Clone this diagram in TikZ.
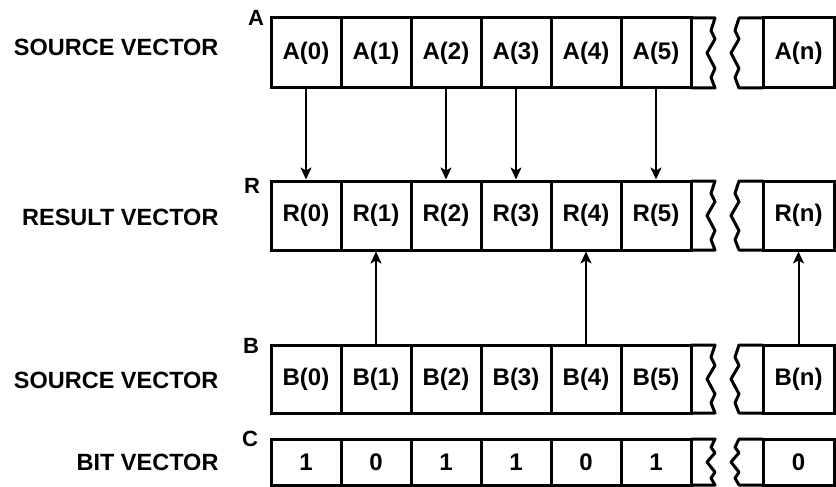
\documentclass[tikz,border=0pt]{standalone}
\usepackage{fontspec}
\setmainfont{Liberation Sans}
\usetikzlibrary{arrows.meta}
\newcommand\squig[3]{(#1,#2) -- ({#1-4},{#2+0.18*(#3-#2)}) -- ({#1},{#2+0.3*(#3-#2)}) -- ({#1-8},{#2+0.5*(#3-#2)}) -- ({#1},{#2+0.72*(#3-#2)}) -- ({#1-4},{#2+0.85*(#3-#2)}) -- (#1,#3)}
\newcommand\brkrow[2]{%
  \draw[brk] (691,#1) -- \squig{715}{#1}{#2} -- (691,#2);
  \draw[brk] (763,#1) -- \squig{739}{#1}{#2} -- (763,#2);}
\begin{document}
\begin{tikzpicture}[x=1pt,y=-1pt,
 cell/.style={draw, line width=3pt, minimum width=70pt, inner sep=0pt, font=\fontsize{24}{26}\selectfont\bfseries},
 rowlbl/.style={font=\fontsize{23.5}{26}\selectfont\bfseries, anchor=east},
 letter/.style={font=\fontsize{22}{24}\selectfont\bfseries},
 brk/.style={line width=3pt, line join=round},
 arr/.style={line width=2pt, -{Stealth[length=12pt,width=11pt,inset=3pt]}}
]
\useasboundingbox (0,0) rectangle (836,487);
% left labels
\node[rowlbl] (tA) at (222,47) {SOURCE VECTOR};
\node[rowlbl] (tR) at (222,217) {RESULT VECTOR};
\node[rowlbl] (tB) at (222,380) {SOURCE VECTOR};
\node[rowlbl] (tC) at (222,462) {BIT VECTOR};
% letters
\node[letter] (lA) at (256,18) {A};
\node[letter] (lR) at (252,186) {R};
\node[letter] (lB) at (251,346) {B};
\node[letter] (lC) at (250,439) {C};
% rows
\foreach \i in {0,...,5} {
  \node[cell, minimum height=70pt] (A\i) at ({306+70*\i},53) {\raisebox{5pt}{A(\i)}};
  \node[cell, minimum height=69pt] (R\i) at ({306+70*\i},215.5) {R(\i)};
  \node[cell, minimum height=68pt] (B\i) at ({306+70*\i},379) {B(\i)};
}
\foreach \i/\v in {0/1,1/0,2/1,3/1,4/0,5/1} {
  \node[cell, minimum height=46pt] (C\i) at ({306+70*\i},462) {\v};
}
\node[cell, minimum width=71pt, minimum height=70pt] (An) at (798.5,53) {\raisebox{5pt}{A(n)}};
\node[cell, minimum width=71pt, minimum height=69pt] (Rn) at (798.5,215.5) {R(n)};
\node[cell, minimum width=71pt, minimum height=68pt] (Bn) at (798.5,379) {B(n)};
\node[cell, minimum width=71pt, minimum height=46pt] (Cn) at (798.5,462) {0};
% breaks
\brkrow{18}{88}
\brkrow{181}{250}
\brkrow{345}{413}
\brkrow{439}{485}
% arrows
\draw[arr] (A0) -- (R0);
\draw[arr] (A2) -- (R2);
\draw[arr] (A3) -- (R3);
\draw[arr] (A5) -- (R5);
\draw[arr] (B1) -- (R1);
\draw[arr] (B4) -- (R4);
\draw[arr] (Bn) -- (Rn);
\end{tikzpicture}
\end{document}
